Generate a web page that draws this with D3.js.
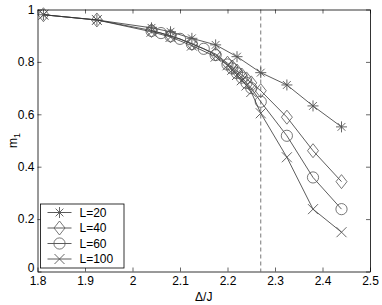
<!DOCTYPE html>
<html>
<head>
<meta charset="utf-8">
<script src="https://cdn.jsdelivr.net/npm/d3@7"></script>
<style>
  body { margin: 0; background: #fff; }
  text { font-family: "Liberation Sans", Arial, sans-serif; }
</style>
</head>
<body>
<div id="showBox"></div>
<script>
// data
const dL20 = [1.8125, 1.925, 2.04, 2.08, 2.125, 2.175, 2.22, 2.27, 2.325, 2.38, 2.44];
const mL20 = [0.98, 0.96, 0.93, 0.915, 0.89, 0.865, 0.82, 0.759, 0.712, 0.632, 0.552];

const dL40 = [1.8125, 1.925, 2.04, 2.08, 2.125, 2.175, 2.2, 2.21, 2.22, 2.23, 2.24, 2.25, 2.27, 2.325, 2.38, 2.44];
const mL40 = [0.98, 0.96, 0.92, 0.90, 0.87, 0.83, 0.795, 0.78, 0.765, 0.75, 0.735, 0.72, 0.69, 0.589, 0.461, 0.343];

const dL60 = [2.04, 2.06, 2.08, 2.1, 2.125, 2.15, 2.175, 2.2, 2.21, 2.22, 2.23, 2.24, 2.25, 2.27, 2.325, 2.38, 2.44];
const mL60 = [0.918, 0.91, 0.898, 0.888, 0.868, 0.85, 0.826, 0.79, 0.775, 0.757, 0.74, 0.72, 0.70, 0.648, 0.518, 0.359, 0.238];

const dL100 = [1.8125, 1.925, 2.04, 2.08, 2.125, 2.175, 2.2, 2.21, 2.22, 2.23, 2.24, 2.25, 2.27, 2.325, 2.38, 2.44];
const mL100 = [0.98, 0.96, 0.915, 0.895, 0.862, 0.82, 0.787, 0.77, 0.75, 0.73, 0.71, 0.685, 0.604, 0.436, 0.238, 0.150];

const seriesNames = ["L=20", "L=40", "L=60", "L=100"];
const seriesMarkers = ["star", "diamond", "circle", "cross"];
const xTicks = [1.8, 1.9, 2, 2.1, 2.2, 2.3, 2.4, 2.5];
const yTicks = [0, 0.2, 0.4, 0.6, 0.8, 1];
const deltaC = 2.27;

const series = [
    {name: seriesNames[0], marker: seriesMarkers[0], d: dL20, m: mL20},
    {name: seriesNames[1], marker: seriesMarkers[1], d: dL40, m: mL40},
    {name: seriesNames[2], marker: seriesMarkers[2], d: dL60, m: mL60},
    {name: seriesNames[3], marker: seriesMarkers[3], d: dL100, m: mL100}
];

const W = 382, H = 305;
const mLeft = 37.5, mRight = 370, mTop = 9.5, mBottom = 271.5;

const x = d3.scaleLinear().domain([1.8, 2.5]).range([mLeft, mRight]);
const y = d3.scaleLinear().domain([0, 1]).range([mBottom, mTop]);

const svg = d3.select("#showBox").append("svg")
    .attr("width", W).attr("height", H);

const lineCol = "#333", markCol = "#555";

function drawMarker(g, type) {
    if (type === "star") {
        const r = 5.5;
        let p = "";
        for (let i = 0; i < 4; i++) {
            const a = i * Math.PI / 4;
            p += `M${-r * Math.cos(a)},${-r * Math.sin(a)}L${r * Math.cos(a)},${r * Math.sin(a)}`;
        }
        g.append("path").attr("d", p).attr("stroke", markCol).attr("fill", "none").attr("stroke-width", 0.9);
    } else if (type === "diamond") {
        g.append("path").attr("d", "M0,-7L5.5,0L0,7L-5.5,0Z")
            .attr("stroke", markCol).attr("fill", "none").attr("stroke-width", 0.8);
    } else if (type === "circle") {
        g.append("circle").attr("r", 5.6)
            .attr("stroke", markCol).attr("fill", "none").attr("stroke-width", 0.8);
    } else {
        const r = 5;
        g.append("path").attr("d", `M${-r},${-r}L${r},${r}M${-r},${r}L${r},${-r}`)
            .attr("stroke", markCol).attr("fill", "none").attr("stroke-width", 0.9);
    }
}

// dashed critical line
svg.append("line")
    .attr("x1", x(deltaC)).attr("x2", x(deltaC))
    .attr("y1", mTop).attr("y2", mBottom)
    .attr("stroke", "#777").attr("stroke-width", 1)
    .attr("stroke-dasharray", "4,3");

const line = d3.line().x(d => x(d[0])).y(d => y(d[1]));

series.forEach(s => {
    const pts = s.d.map((v, i) => [v, s.m[i]]);
    svg.append("path")
        .attr("d", line(pts))
        .attr("fill", "none").attr("stroke", lineCol).attr("stroke-width", 0.8);
    svg.append("g").selectAll("g")
        .data(pts)
        .join("g")
        .attr("transform", d => `translate(${x(d[0])},${y(d[1])})`)
        .each(function () { drawMarker(d3.select(this), s.marker); });
});

// axes box with inward ticks on all sides
const tickLen = 4;
svg.append("g")
    .attr("transform", `translate(0,${mBottom})`)
    .call(d3.axisBottom(x).tickValues(xTicks).tickSizeInner(-tickLen).tickSizeOuter(0)
        .tickFormat(d3.format("")))
    .call(g => g.selectAll("text").attr("y", 5).attr("dy", "0.71em").attr("font-size", 12).attr("fill", "#000"));
svg.append("g")
    .attr("transform", `translate(0,${mTop})`)
    .call(d3.axisTop(x).tickValues(xTicks).tickSizeInner(-tickLen).tickSizeOuter(0).tickFormat(""));
svg.append("g")
    .attr("transform", `translate(${mLeft},0)`)
    .call(d3.axisLeft(y).tickValues(yTicks).tickSizeInner(-tickLen).tickSizeOuter(0)
        .tickFormat(d3.format("")))
    .call(g => g.selectAll("text").attr("x", -3).attr("font-size", 12).attr("fill", "#000")
        .attr("dy", d => d === 0 ? "0em" : "0.32em"));
svg.append("g")
    .attr("transform", `translate(${mRight},0)`)
    .call(d3.axisRight(y).tickValues(yTicks).tickSizeInner(-tickLen).tickSizeOuter(0).tickFormat(""));
svg.selectAll(".domain").attr("stroke", "#000").attr("stroke-width", 0.8);
svg.selectAll(".tick line").attr("stroke", "#000").attr("stroke-width", 0.6);

// axis labels
svg.append("text")
    .attr("x", (mLeft + mRight) / 2).attr("y", 301)
    .attr("text-anchor", "middle").attr("font-size", 12)
    .text("\u0394/J");
const ylab = svg.append("text")
    .attr("transform", `translate(17,${(mTop + mBottom) / 2}) rotate(-90)`)
    .attr("text-anchor", "middle").attr("font-size", 12);
ylab.append("tspan").text("m");
ylab.append("tspan").attr("font-size", 9).attr("dy", 3).text("1");

// legend
const lg = svg.append("g").attr("transform", "translate(40.5,204)");
lg.append("rect").attr("width", 83.5).attr("height", 64)
    .attr("fill", "#fff").attr("stroke", "#000").attr("stroke-width", 0.8);
series.forEach((s, i) => {
    const row = lg.append("g").attr("transform", `translate(0,${8.5 + i * 15.5})`);
    row.append("line").attr("x1", 7).attr("x2", 31).attr("stroke", lineCol).attr("stroke-width", 0.8);
    drawMarker(row.append("g").attr("transform", "translate(19,0)"), s.marker);
    row.append("text").attr("x", 39).attr("dy", "0.35em").attr("font-size", 12).text(s.name);
});
</script>
</body>
</html>
